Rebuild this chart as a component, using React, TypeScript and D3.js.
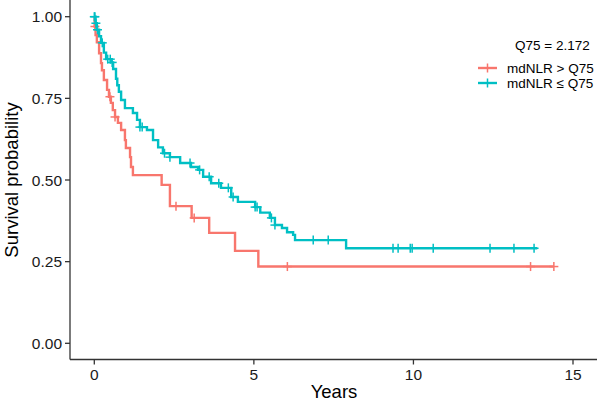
import React from "react";
import * as d3 from "d3";

const xTicks = [0, 5, 10, 15];
const yTicks = [0, 0.25, 0.5, 0.75, 1.0];
const yTickLabels = ["0.00", "0.25", "0.50", "0.75", "1.00"];

const redTimes = [0, 0.01, 0.04, 0.08, 0.15, 0.21, 0.24, 0.30, 0.40, 0.46, 0.52, 0.58, 0.65, 0.74, 0.84, 0.96, 0.99, 1.12, 1.15, 1.21, 2.11, 2.37, 3.05, 3.60, 4.41, 5.14];
const redSurv = [1.0, 0.97, 0.944, 0.922, 0.888, 0.858, 0.836, 0.806, 0.776, 0.755, 0.736, 0.714, 0.693, 0.675, 0.653, 0.622, 0.598, 0.57, 0.54, 0.515, 0.485, 0.42, 0.384, 0.338, 0.283, 0.235];
const redEnd = 14.4;
const redCensor = [0.02, 0.49, 0.65, 2.56, 3.13, 6.05, 13.67, 14.4];

const tealTimes = [0, 0.04, 0.08, 0.15, 0.21, 0.30, 0.37, 0.52, 0.59, 0.68, 0.72, 0.77, 0.84, 0.96, 1.21, 1.34, 1.43, 1.65, 1.84, 2.0, 2.15, 2.37, 2.69, 3.03, 3.25, 3.41, 3.66, 3.97, 4.29, 4.5, 5.04, 5.2, 5.5, 5.66, 5.88, 6.04, 6.23, 6.29, 7.89];
const tealSurv = [1.0, 0.98, 0.96, 0.94, 0.92, 0.89, 0.87, 0.86, 0.84, 0.81, 0.79, 0.77, 0.745, 0.72, 0.705, 0.684, 0.662, 0.653, 0.622, 0.60, 0.582, 0.57, 0.552, 0.54, 0.531, 0.51, 0.49, 0.476, 0.448, 0.433, 0.417, 0.40, 0.384, 0.362, 0.353, 0.34, 0.332, 0.316, 0.291];
const tealEnd = 13.88;
const tealCensor = [0, 0.02, 0.05, 0.1, 0.25, 0.42, 0.5, 0.56, 1.43, 1.5, 2.2, 2.37, 3.0, 3.3, 3.6, 3.9, 4.2, 4.35, 5.04, 5.1, 5.55, 5.66, 6.86, 7.33, 9.36, 9.52, 9.9, 9.96, 10.62, 12.4, 13.15, 13.78];

const legendTitle = "Q75 = 2.172";
const groupLabels = ["mdNLR > Q75", "mdNLR \u2264 Q75"];
const groupColors = ["#F8766D", "#00BFC4"];

const FONT = "'Liberation Sans', Arial, Helvetica, sans-serif";

function survAt(times: number[], surv: number[], t: number) {
  let s = surv[0];
  for (let i = 0; i < times.length; i++) if (times[i] <= t) s = surv[i];
  return s;
}

export default function App() {
  const W = 597, H = 403;
  const x = d3.scaleLinear().domain([0, 15]).range([94.3, 573]);
  const y = d3.scaleLinear().domain([0, 1]).range([343.3, 16.7]);
  const axisY = 359.5;
  const axisX = 70;

  const line = d3.line<[number, number]>().x(d => x(d[0])).y(d => y(d[1])).curve(d3.curveStepAfter);

  const groups = [
    { times: redTimes, surv: redSurv, end: redEnd, censor: redCensor, color: groupColors[0] },
    { times: tealTimes, surv: tealSurv, end: tealEnd, censor: tealCensor, color: groupColors[1] },
  ];

  const axisColor = "#333333";

  return (
    <svg width={W} height={H} style={{ position: "fixed", left: 0, top: 0, background: "#fff" }}>
      <rect x={0} y={0} width={W} height={H} fill="#fff" />
      <line x1={axisX} x2={axisX} y1={0} y2={axisY} stroke={axisColor} strokeWidth={1.3} />
      <line x1={axisX} x2={W} y1={axisY} y2={axisY} stroke={axisColor} strokeWidth={1.3} />
      {yTicks.map((t, i) => (
        <g key={"yt" + i}>
          <line x1={axisX - 5} x2={axisX} y1={y(t)} y2={y(t)} stroke={axisColor} strokeWidth={1.3} />
          <text x={axisX - 8} y={y(t)} dy="0.36em" textAnchor="end" fontFamily={FONT} fontSize={15.5} fill="#1a1a1a">
            {yTickLabels[i]}
          </text>
        </g>
      ))}
      {xTicks.map((t, i) => (
        <g key={"xt" + i}>
          <line x1={x(t)} x2={x(t)} y1={axisY} y2={axisY + 5} stroke={axisColor} strokeWidth={1.3} />
          <text x={x(t)} y={380} textAnchor="middle" fontFamily={FONT} fontSize={15.5} fill="#1a1a1a">
            {String(t)}
          </text>
        </g>
      ))}
      <text x={334} y={398} textAnchor="middle" fontFamily={FONT} fontSize={18.5} fill="#000">Years</text>
      <text transform={`translate(18,${y(0.5)}) rotate(-90)`} textAnchor="middle" fontFamily={FONT} fontSize={18.5} fill="#000">
        Survival probability
      </text>

      {groups.map((g, gi) => {
        const pts: [number, number][] = g.times.map((t, i) => [t, g.surv[i]] as [number, number]);
        pts.push([g.end, g.surv[g.surv.length - 1]]);
        return (
          <g key={"g" + gi}>
            <path d={line(pts) || ""} fill="none" stroke={g.color} strokeWidth={2.4} />
            {g.censor.map((c, ci) => {
              const cx = x(c), cy = y(survAt(g.times, g.surv, c));
              return (
                <g key={"c" + ci} stroke={g.color} strokeWidth={1.5}>
                  <line x1={cx} x2={cx} y1={cy - 4.5} y2={cy + 4.5} />
                  <line x1={cx - 4.5} x2={cx + 4.5} y1={cy} y2={cy} />
                </g>
              );
            })}
          </g>
        );
      })}

      <text x={515} y={50} fontFamily={FONT} fontSize={13.5} fill="#000">{legendTitle}</text>
      {groupLabels.map((lab, i) => {
        const ly = 68 + i * 15;
        return (
          <g key={"lg" + i}>
            <line x1={478} x2={497} y1={ly} y2={ly} stroke={groupColors[i]} strokeWidth={2.4} />
            <line x1={487.5} x2={487.5} y1={ly - 4.5} y2={ly + 4.5} stroke={groupColors[i]} strokeWidth={1.5} />
            <text x={507} y={ly} dy="0.36em" fontFamily={FONT} fontSize={13.5} fill="#000">{lab}</text>
          </g>
        );
      })}
    </svg>
  );
}
